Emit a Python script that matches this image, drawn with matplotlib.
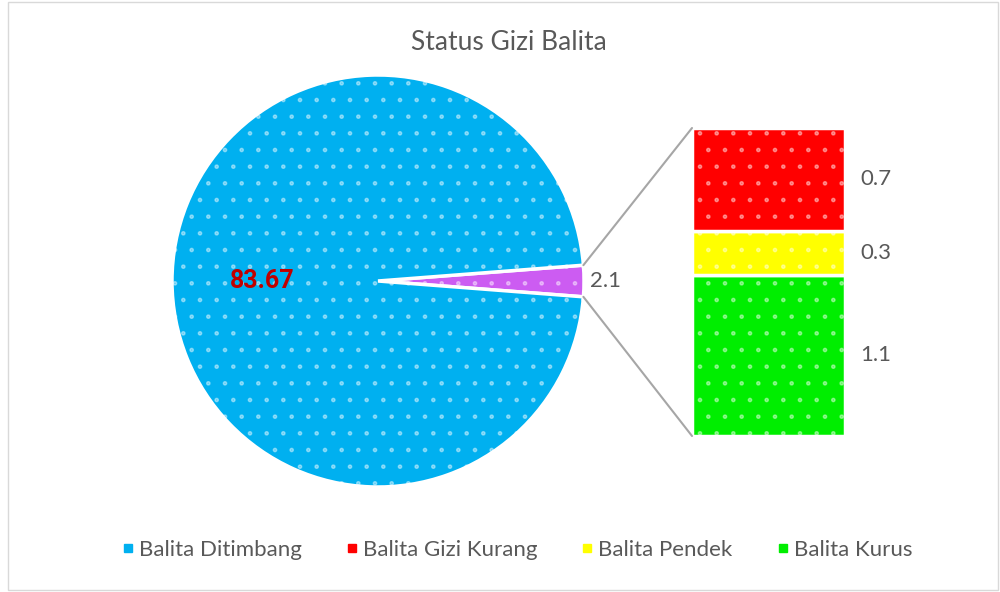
import matplotlib.pyplot as plt
from matplotlib.patches import ConnectionPatch, Rectangle
from matplotlib.lines import Line2D
import numpy as np

plt.rcParams['font.family'] = ['Lato', 'DejaVu Sans']

# data
pie_labels = ['Balita Ditimbang', 'Lainnya']
pie_values = [83.67, 2.1]
pie_colors = ['#00B0F0', '#CC5CF2']

bar_labels = ['Balita Kurus', 'Balita Pendek', 'Balita Gizi Kurang']   # bottom -> top
bar_values = [1.1, 0.3, 0.7]
bar_colors = ['#00EE00', '#FFFF00', '#FF0000']

legend_labels = ['Balita Ditimbang', 'Balita Gizi Kurang', 'Balita Pendek', 'Balita Kurus']
legend_colors = ['#00B0F0', '#FF0000', '#FFFF00', '#00EE00']

txt = '#595959'
W, H = 1000, 592
fig = plt.figure(figsize=(10, 5.92), dpi=100)

# light border like the excel chart area
fig.patches.append(Rectangle((8 / W, 2 / H), 990 / W, 588 / H, transform=fig.transFigure,
                             fill=False, edgecolor='#d9d9d9', linewidth=1))

#pie
ax1 = fig.add_axes([172 / W, (592 - 487) / H, 412 / W, 412 / H])
total = sum(pie_values)
other_ang = pie_values[1] / total * 360
start = -other_ang / 2
vals = [pie_values[1], pie_values[0]]
cols = [pie_colors[1], pie_colors[0]]
wedges, _ = ax1.pie(vals, colors=cols, startangle=start, counterclock=True, radius=1,
                    wedgeprops=dict(edgecolor='white', linewidth=2.5))
# dotted texture
w2, _ = ax1.pie(vals, colors=['none', 'none'], startangle=start, counterclock=True, radius=1,
                wedgeprops=dict(edgecolor=(1, 1, 1, 0.4), linewidth=0, hatch='.', fill=False))
ax1.set_xlim(-1, 1)
ax1.set_ylim(-1, 1)
ax1.set_aspect('equal')
ax1.axis('off')

ax1.text(-0.56, 0, '{:.2f}'.format(pie_values[0]), color='#C00000', fontsize=18,
         fontweight='bold', family=['Roboto', 'DejaVu Sans'], ha='center', va='center')
ax1.text(1.03, 0, '{:g}'.format(pie_values[1]), color=txt, fontsize=16, ha='left', va='center')

#bar
ax2 = fig.add_axes([692 / W, (592 - 436) / H, 153 / W, 308 / H])
bottom = 0
for v, c in zip(bar_values, bar_colors):
    ax2.bar(0, v, width=1, bottom=bottom, color=c, edgecolor='white', linewidth=2.5)
    ax2.bar(0, v, width=1, bottom=bottom, fill=False, edgecolor=(1, 1, 1, 0.4),
            linewidth=0, hatch='.')
    ax2.text(0.6, bottom + v / 2, '{:g}'.format(v), color=txt, fontsize=16,
             ha='left', va='center')
    bottom += v
ax2.set_xlim(-0.5, 0.5)
ax2.set_ylim(0, sum(bar_values))
ax2.axis('off')

# connector lines
th = np.deg2rad(other_ang / 2)
for sgn, yb in [(1, sum(bar_values)), (-1, 0)]:
    con = ConnectionPatch(xyA=(np.cos(th), sgn * np.sin(th)), coordsA=ax1.transData,
                          xyB=(-0.5, yb), coordsB=ax2.transData,
                          color='#a6a6a6', linewidth=1.5)
    fig.add_artist(con)

fig.text(0.509, 1 - 42 / H, 'Status Gizi Balita', color=txt, fontsize=19,
         ha='center', va='center')

handles = [Line2D([], [], marker='s', linestyle='none', markersize=6,
                  markerfacecolor=c, markeredgecolor=c) for c in legend_colors]
fig.legend(handles, legend_labels, loc='center', bbox_to_anchor=(0.516, 1 - 550 / H),
           ncol=4, frameon=False, fontsize=16, labelcolor=txt, handletextpad=0.15,
           columnspacing=1.9, handlelength=0.7)

fig.savefig('out.png', dpi=100, facecolor='white')
